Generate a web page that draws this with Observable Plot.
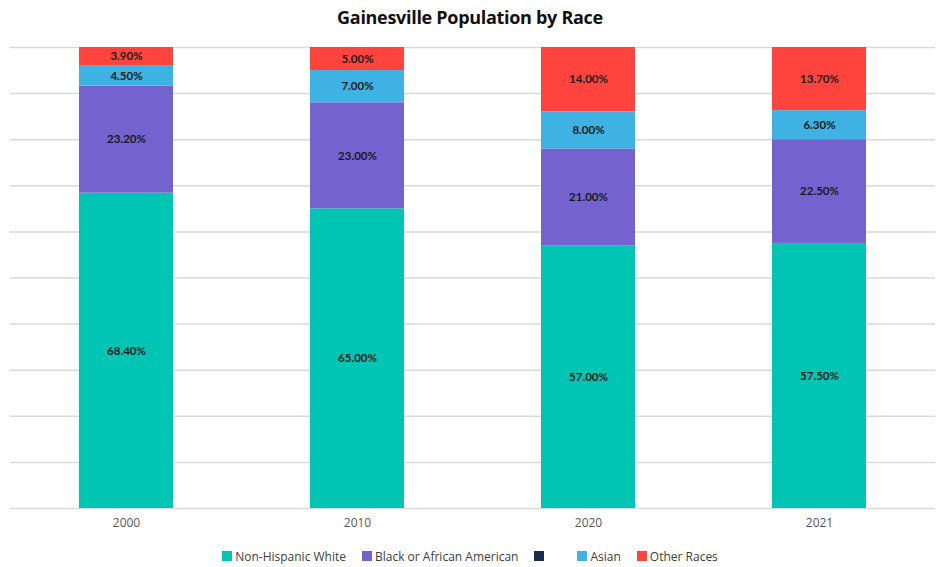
<!DOCTYPE html>
<html>
<head>
<meta charset="utf-8">
<script src="https://cdn.jsdelivr.net/npm/d3@7"></script>
<script src="https://cdn.jsdelivr.net/npm/@observablehq/plot@0.6"></script>
<style>
  body { margin: 0; background: #fff; width: 940px; overflow: hidden; }
  #title { height: 34px; line-height: 34px; text-align: center; font-family: "Open Sans", sans-serif; font-weight: 700; font-size: 18px; color: #111; letter-spacing: -0.3px; }
  #legend { height: 28px; display: flex; justify-content: center; align-items: center; font-family: "Open Sans", sans-serif; font-size: 12px; color: #404040; padding-top: 6px; box-sizing: border-box; }
  .item { display: flex; align-items: center; margin: 0 8px; }
  .sw { width: 10px; height: 10px; margin-right: 3px; }
</style>
</head>
<body>
<div id="title">Gainesville Population by Race</div>
<div id="chart"></div>
<div id="legend"></div>
<script>
const years = ["2000", "2010", "2020", "2021"];
const series = ["Non-Hispanic White", "Black or African American", "", "Asian", "Other Races"];
const colors = ["#00C5B3", "#7462CF", "#182C52", "#3EB2E3", "#FF443D"];
const white = [68.4, 65.0, 57.0, 57.5];
const black = [23.2, 23.0, 21.0, 22.5];
const blank = [0, 0, 0, 0];
const asian = [4.5, 7.0, 8.0, 6.3];
const other = [3.9, 5.0, 14.0, 13.7];
const gridTicks = [0, 10, 20, 30, 40, 50, 60, 70, 80, 90, 100];

const valuesBySeries = [white, black, blank, asian, other];
const data = [];
series.forEach((s, si) => {
  years.forEach((y, yi) => {
    data.push({year: y, series: s, key: si, value: valuesBySeries[si][yi]});
  });
});
const shown = data.filter(d => d.value > 0);

const chart = Plot.plot({
  width: 940,
  height: 505,
  marginTop: 13,
  marginBottom: 31,
  marginLeft: 10,
  marginRight: 5,
  x: {domain: years, paddingInner: 0.594, paddingOuter: 0.297, label: null},
  y: {domain: [0, 100], axis: null},
  color: {domain: series.map((s, i) => i), range: colors},
  style: {fontFamily: "Open Sans, sans-serif", fontSize: "12px", color: "#595959"},
  marks: [
    Plot.ruleY(gridTicks, {stroke: "#d9d9d9", strokeWidth: 1.5}),
    Plot.barY(shown, Plot.stackY({x: "year", y: "value", fill: d => d.key, order: "key"})),
    Plot.text(shown, Plot.stackY({x: "year", y: "value", order: "key",
      text: d => d.value.toFixed(2) + "%", fill: "#1a1a1a", fontWeight: "bold",
      fontSize: 11.5, fontFamily: "Lato, sans-serif"})),
    Plot.axisX({tickSize: 0, tickPadding: 10, fontSize: 12, fill: "#595959", label: null})
  ]
});
document.getElementById("chart").appendChild(chart);

const legend = document.getElementById("legend");
series.forEach((s, i) => {
  const it = document.createElement("div");
  it.className = "item";
  const sw = document.createElement("div");
  sw.className = "sw";
  sw.style.background = colors[i];
  it.appendChild(sw);
  const t = document.createElement("span");
  t.textContent = s;
  if (s === "") t.style.width = "14px";
  it.appendChild(t);
  legend.appendChild(it);
});
</script>
</body>
</html>
